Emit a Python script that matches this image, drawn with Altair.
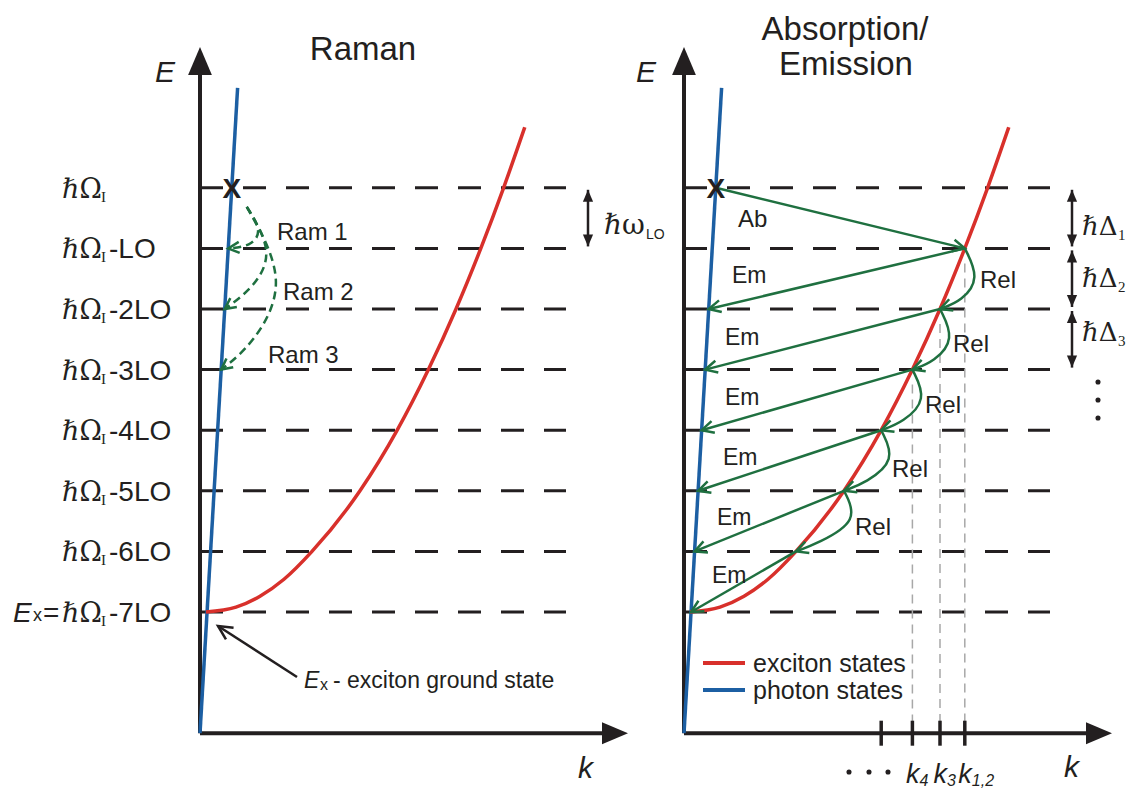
import math
import altair as alt
import numpy as np
import pandas as pd

# ---------------- values ----------------
levels = [7, 6, 5, 4, 3, 2, 1, 0]                  # energy in LO quanta above E_x
level_suffix = ["", "-LO", "-2LO", "-3LO", "-4LO", "-5LO", "-6LO", "-7LO"]
photon_k = [0.0, 0.94]
photon_E = [-2.0, 8.65]
exciton_k = [0.15, 0.9, 1.5, 2.1, 2.8, 4.0, 4.93, 5.71, 6.4, 7.02, 7.59, 8.12]
exciton_E = [0.0, 0.08, 0.26, 0.54, 1.0, 2.0, 3.0, 4.0, 5.0, 6.0, 7.0, 8.0]
panel_names = ["Raman", "Absorption/Emission"]
panel_shift = [0.0, 12.1]                          # k-offset of each panel on the canvas
raman_targets = [6, 5, 4]
raman_labels = ["Ram 1", "Ram 2", "Ram 3"]
emission_from = [6, 5, 4, 3, 2, 1]
relax_from = [6, 5, 4, 3, 2]
k_state_levels = [6, 5, 4]
k_state_subs = ["1,2", "3", "4"]
tick_levels = [6, 5, 4, 3]
delta_from = [7, 6, 5]
delta_subs = ["1", "2", "3"]
legend_labels = ["exciton states", "photon states"]

# ---------------- canvas / scales ----------------
W, H = 1139, 790
KPX, EPX = 40.0, 60.6
X_MIN = -5.0
E_MAX = 612 / EPX
xs = alt.Scale(domain=[X_MIN, X_MIN + W / KPX], nice=False, zero=False)
ys = alt.Scale(domain=[E_MAX - H / EPX, E_MAX], nice=False, zero=False)

def px(X): return (X - X_MIN) * KPX
def py(E): return (E_MAX - E) * EPX
def X_of(p): return X_MIN + p / KPX
def E_of(p): return E_MAX - p / EPX
def blue_k(E): return float(np.interp(E, photon_E, photon_k))
def red_k(E): return float(np.interp(E, exciton_E, exciton_k))
def ang(p0, p1):
    return math.degrees(math.atan2(p1[1] - p0[1], p1[0] - p0[0])) % 360

INK = "#231f20"
GREEN = "#1f7040"
BLUE = "#1c5fa3"
RED = "#d8302b"
L, R = panel_shift

XE = dict(x=alt.X("X:Q", scale=xs, axis=None), y=alt.Y("E:Q", scale=ys, axis=None))

def seg(rows, **mark):
    df = pd.DataFrame(rows, columns=["X", "E", "X2", "E2"])
    return alt.Chart(df).mark_rule(**mark).encode(**XE, x2="X2:Q", y2="E2:Q")

def pts(rows, shape, size, filled, color, sw=2.5):
    df = pd.DataFrame(rows, columns=["X", "E", "ang"])
    return alt.Chart(df).mark_point(shape=shape, size=size, filled=filled, color=color,
                                    opacity=1, strokeWidth=sw).encode(
        **XE, angle=alt.Angle("ang:Q", scale=None))

def curve(rows, interp, **mark):
    df = pd.DataFrame(rows, columns=["id", "i", "X", "E"])
    return alt.Chart(df).mark_line(interpolate=interp, **mark).encode(
        **XE, detail="id:N", order="i:Q")

def tx(rows, font="Liberation Sans", style="normal", weight="normal", align="left", color=INK):
    df = pd.DataFrame(rows, columns=["X", "E", "text", "size"])
    return alt.Chart(df).mark_text(font=font, fontStyle=style, fontWeight=weight, align=align,
                                   baseline="alphabetic", color=color).encode(
        **XE, text="text:N", size=alt.Size("size:Q", scale=None, legend=None))

def P(a, b): return (X_of(a), E_of(b))

CHEV = "M-2,-1L0,0L-2,1"
TRI = "M0,0L-2,-0.85L-2,0.85Z"
layers = []

# dashed energy levels
layers.append(seg([(sh, E, sh + 9.15, E) for sh in panel_shift for E in levels],
                  color=INK, strokeWidth=3, strokeDash=[23, 20]))

# grey guide lines to k states
layers.append(seg([(R + red_k(E), E_of(py(E) + 15), R + red_k(E), -2) for E in k_state_levels],
                  color="#a8a8a8", strokeWidth=1.5, strokeDash=[9, 6]))

# axes
layers.append(seg([(sh, -2, sh, 8.9) for sh in panel_shift] +
                  [(sh, -2, sh + 10.1, -2) for sh in panel_shift], color=INK, strokeWidth=4))
layers.append(pts([(sh, E_of(47), 270) for sh in panel_shift], TRI, 784, True, INK))
layers.append(pts([(sh + 10.7, -2, 0) for sh in panel_shift], TRI, 676, True, INK))

# ticks on right k-axis
tk = 12.5 / EPX
layers.append(seg([(R + red_k(E), -2 + tk, R + red_k(E), -2 - tk) for E in tick_levels],
                  color=INK, strokeWidth=3.5))

# dispersion curves
ph_rows, ex_rows = [], []
for name, sh in zip(panel_names, panel_shift):
    ph_rows += [(name, i, sh + k, E) for i, (k, E) in enumerate(zip(photon_k, photon_E))]
    ex_rows += [(name, i, sh + k, E) for i, (k, E) in enumerate(zip(exciton_k, exciton_E))]
layers.append(curve(ph_rows, "linear", color=BLUE, strokeWidth=3.5))
layers.append(curve(ex_rows, "monotone", color=RED, strokeWidth=3.5))

# ---- Absorption / Emission arrows ----
def pp(X, E): return (px(X), py(E))
straight = [((R + blue_k(7), 7), (R + red_k(6), 6))]
straight += [((R + red_k(n), n), (R + blue_k(n - 1), n - 1)) for n in emission_from]
layers.append(seg([(a[0], a[1], b[0], b[1]) for a, b in straight], color=GREEN, strokeWidth=2.5))
heads = [(b[0], b[1], ang(pp(*a), pp(*b))) for a, b in straight]

rel_rows = []
for n in relax_from:
    S = pp(R + red_k(n), n)
    T = pp(R + red_k(n - 1), n - 1)
    C1 = (S[0] + 15, S[1] + 30)
    C2 = (T[0] + 22, T[1] - 8)
    for i, q in enumerate([S, C1, C2, T]):
        rel_rows.append((f"rel{n}", i, X_of(q[0]), E_of(q[1])))
    heads.append((X_of(T[0]), E_of(T[1]), ang(C2, T)))
layers.append(curve(rel_rows, "basis", color=GREEN, strokeWidth=2.5))
layers.append(pts(heads, CHEV, 144, False, GREEN, 2.5))

# ---- Raman dashed arrows ----
Xp = pp(L + blue_k(7), 7)
S = (Xp[0] + 15, Xp[1] + 19)
ram_ctrl = [((16, 25), (22, -2)), ((27, 45), (30, -22)), ((42, 75), (32, -25))]
ram_rows, ram_heads = [], []
for j, (n, (c1, c2)) in enumerate(zip(raman_targets, ram_ctrl)):
    T = pp(L + blue_k(n), n)
    C1 = (S[0] + c1[0], S[1] + c1[1])
    C2 = (T[0] + c2[0], T[1] + c2[1])
    for i, q in enumerate([S, C1, C2, T]):
        ram_rows.append((f"ram{j}", i, X_of(q[0]), E_of(q[1])))
    ram_heads.append((X_of(T[0]), E_of(T[1]), ang(C2, T)))
layers.append(curve(ram_rows, "basis", color=GREEN, strokeWidth=2.5, strokeDash=[8, 5]))
layers.append(pts(ram_heads, CHEV, 121, False, GREEN, 2.5))

# ---- double arrows (energy spacings) ----
dbl = [(X_of(588), 7, 6)] + [(X_of(1072), n, n - 1) for n in delta_from]
layers.append(seg([(x, E_of(py(a) + 2), x, E_of(py(b) - 2)) for x, a, b in dbl], color=INK, strokeWidth=2.5))
layers.append(pts([(x, E_of(py(a) + 2), 270) for x, a, b in dbl] +
                  [(x, E_of(py(b) - 2), 90) for x, a, b in dbl], TRI, 144, True, INK))

# ---- dots ----
dots = [P(1098, y) for y in (382, 400, 418)] + [P(x, 772) for x in (849, 869, 888)]
layers.append(pts([(a, b, 0) for a, b in dots], "circle", 26, True, INK))

# ---- E_x annotation arrow ----
a0, a1 = (297, 677), (218, 626)
layers.append(seg([(X_of(a0[0]), E_of(a0[1]), X_of(a1[0]), E_of(a1[1]))], color=INK, strokeWidth=2.5))
layers.append(pts([(X_of(a1[0]), E_of(a1[1]), ang(a0, a1))], CHEV, 196, False, INK, 2.5))

# ---- legend ----
layers.append(seg([(*P(703, 663), *P(745, 663))], color=RED, strokeWidth=4))
layers.append(seg([(*P(703, 690), *P(745, 690))], color=BLUE, strokeWidth=4))
layers.append(tx([(*P(753, 672), legend_labels[0], 25), (*P(753, 699), legend_labels[1], 25)]))

# ---- X markers ----
layers.append(tx([(sh + blue_k(7), E_of(py(7) + 10), "X", 28) for sh in panel_shift],
                 weight="bold", align="center"))

# ---- titles ----
layers.append(tx([(*P(363, 60), "Raman", 33), (*P(845, 40), "Absorption/", 33),
                  (*P(846, 75), "Emission", 33)], align="center"))

# ---- axis letters ----
layers.append(tx([(*P(155, 82), "E", 30), (*P(636, 82), "E", 30),
                  (*P(578, 778), "k", 30), (*P(1064, 777), "k", 30)], style="italic"))

# ---- level labels ----
hb, sub_l, suf = [], [], []
for n, s in zip(levels, level_suffix):
    base = py(n) + 10
    hb.append((*P(62, base), "ℏΩ", 27))
    sub_l.append((*P(101, base + 4), "I", 15))
    if s:
        suf.append((*P(109, base), s, 28))
layers.append(tx(hb, font="DejaVu Serif"))
layers.append(tx(sub_l, font="Liberation Serif"))
layers.append(tx(suf))
b0 = py(0) + 10
layers.append(tx([(*P(13, b0), "E", 28)], style="italic"))
layers.append(tx([(*P(33, b0 - 1), "x", 18), (*P(43, b0), "=", 28)]))

# ---- process labels ----
ram_pos = [(277, 240), (283, 300), (268, 363)]
layers.append(tx([(*P(x, y), t, 24) for (x, y), t in zip(ram_pos, raman_labels)]))
em_pos = [(732, 283), (725, 345), (725, 405), (723, 465), (717, 525), (712, 583)]
layers.append(tx([(*P(x, y), "Em", 23) for x, y in em_pos]))
rel_pos = [(980, 288), (953, 352), (925, 413), (892, 477), (855, 535)]
layers.append(tx([(*P(x, y), "Rel", 24) for x, y in rel_pos] + [(*P(738, 227), "Ab", 24)]))

# ---- E_x ground state note ----
layers.append(tx([(*P(304, 688), "E", 23)], style="italic"))
layers.append(tx([(*P(320, 690), "x", 16), (*P(333, 688), "- exciton ground state", 23)]))

# ---- hbar omega / delta labels ----
layers.append(tx([(*P(604, 234), "ℏω", 28)] +
                 [(*P(1082, y), "ℏΔ", 26) for y in (235, 287, 341)], font="DejaVu Serif"))
layers.append(tx([(*P(646, 239), "LO", 14)]))
layers.append(tx([(*P(1118, y + 5), s, 15) for y, s in zip((235, 287, 341), delta_subs)],
                 font="Liberation Serif"))

# ---- k-state labels ----
kl, ks = [], []
for n, s in zip(k_state_levels, k_state_subs):
    xk = px(R + red_k(n)) + 7
    kl.append((*P(xk, 783), "k", 27))
    ks.append((*P(xk, 786), s, 16))
layers.append(tx(kl, style="italic", align="right"))
layers.append(tx(ks, style="italic"))

chart = alt.layer(*layers).properties(
    width=W, height=H, padding=0, autosize="none", background="white"
).configure_view(strokeWidth=0)

chart.save("out.html", embed_options={"renderer": "svg", "actions": False})
